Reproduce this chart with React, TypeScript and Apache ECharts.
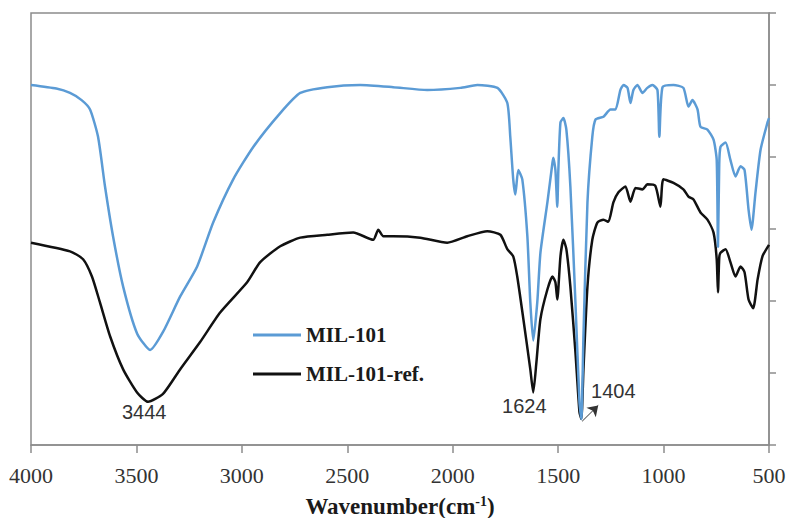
import React, { useEffect, useRef } from "react";
import * as echarts from "echarts";

// Wavenumber ticks (cm-1)
const xTicks = [4000, 3500, 3000, 2500, 2000, 1500, 1000, 500];

// MIL-101 (blue) — wavenumber and relative transmittance (a.u.)
const milWn = [4000, 3880, 3815, 3760, 3720, 3682, 3649, 3611, 3563, 3497, 3435, 3374, 3293, 3212, 3136, 3041, 2946, 2818, 2723, 2595, 2439, 2282, 2121, 1964, 1883, 1788, 1741, 1727, 1713, 1703, 1689, 1670, 1646, 1632, 1618, 1599, 1584, 1551, 1527, 1523, 1513, 1504, 1499, 1489, 1475, 1461, 1442, 1418, 1399, 1390, 1380, 1361, 1338, 1323, 1285, 1252, 1228, 1205, 1190, 1171, 1157, 1143, 1124, 1100, 1077, 1053, 1029, 1020, 1005, 953, 906, 882, 863, 839, 825, 792, 763, 748, 742, 736, 730, 706, 683, 659, 635, 616, 597, 583, 564, 540, 507, 500];
const milT = [5.0, 4.95, 4.89, 4.79, 4.66, 4.28, 3.59, 2.9, 2.2, 1.55, 1.32, 1.57, 2.06, 2.48, 3.09, 3.69, 4.14, 4.61, 4.89, 4.97, 5.0, 4.97, 4.93, 4.96, 5.0, 4.96, 4.75, 4.28, 3.69, 3.48, 3.82, 3.69, 2.9, 1.98, 1.45, 1.98, 2.67, 3.37, 3.92, 3.99, 3.82, 3.31, 3.82, 4.48, 4.54, 4.38, 3.59, 1.98, 0.6, 0.36, 1.51, 3.37, 4.28, 4.52, 4.56, 4.66, 4.66, 4.93, 5.0, 4.96, 4.75, 4.93, 5.0, 4.89, 4.96, 5.0, 4.93, 4.28, 4.97, 5.0, 4.96, 4.7, 4.79, 4.66, 4.42, 4.38, 4.24, 3.96, 2.75, 3.9, 4.14, 4.2, 3.96, 3.73, 3.87, 3.82, 3.27, 2.99, 3.51, 4.1, 4.48, 4.54];

// MIL-101-ref. (black)
const refWn = [4000, 3815, 3753, 3711, 3673, 3625, 3563, 3497, 3445, 3374, 3293, 3198, 3103, 2975, 2913, 2818, 2723, 2595, 2472, 2377, 2353, 2329, 2282, 2154, 2026, 1931, 1836, 1774, 1741, 1713, 1694, 1665, 1632, 1618, 1603, 1584, 1551, 1527, 1513, 1504, 1489, 1475, 1461, 1442, 1418, 1399, 1390, 1380, 1361, 1338, 1314, 1285, 1262, 1238, 1214, 1181, 1157, 1133, 1100, 1077, 1039, 1015, 1001, 953, 906, 882, 858, 825, 792, 763, 748, 742, 736, 730, 706, 683, 659, 635, 616, 597, 575, 554, 531, 500];
const refT = [2.81, 2.69, 2.58, 2.34, 1.98, 1.51, 1.05, 0.73, 0.6, 0.71, 1.05, 1.43, 1.84, 2.26, 2.54, 2.76, 2.88, 2.92, 2.95, 2.85, 2.99, 2.9, 2.9, 2.88, 2.81, 2.9, 2.97, 2.92, 2.72, 2.62, 2.34, 1.75, 1.05, 0.73, 1.15, 1.75, 2.16, 2.34, 2.26, 2.02, 2.62, 2.85, 2.72, 2.2, 1.29, 0.46, 0.36, 1.05, 2.2, 2.85, 3.09, 3.13, 3.1, 3.37, 3.51, 3.59, 3.38, 3.57, 3.55, 3.62, 3.6, 3.31, 3.69, 3.64, 3.55, 3.45, 3.41, 3.23, 3.13, 2.95, 2.58, 2.12, 2.6, 2.67, 2.72, 2.54, 2.34, 2.48, 2.4, 2.02, 1.9, 2.3, 2.62, 2.78];

// Peak annotations
const peakLabels = ["3444", "1624", "1404"];
const peakWn = [3444, 1618, 1390];
const peakT = [0.6, 0.73, 0.36];

const seriesNames = ["MIL-101", "MIL-101-ref."];

export default function App() {
  const ref = useRef<HTMLDivElement>(null);
  useEffect(() => {
    const chart = echarts.init(ref.current!, null, { renderer: "svg" });
    const pair = (w: number[], t: number[]) => w.map((x, i) => [x, t[i]]);
    const sans = "Liberation Sans, Arial, sans-serif";
    const serif = "Liberation Serif, Times New Roman, serif";
    chart.setOption({
      animation: false,
      backgroundColor: "#ffffff",
      grid: {
        left: 31,
        right: 19,
        top: 13,
        bottom: 73,
        show: true,
        borderColor: "#8c8c8c",
        borderWidth: 1.5,
        containLabel: false,
        outerBoundsMode: "none",
      },
      legend: {
        data: seriesNames,
        orient: "vertical",
        left: 248,
        top: 319,
        icon: "rect",
        itemWidth: 48,
        itemHeight: 3,
        itemGap: 17,
        textStyle: {
          fontFamily: serif,
          fontWeight: "bold",
          fontSize: 21,
          color: "#1a1a1a",
          lineHeight: 22,
        },
      },
      xAxis: {
        type: "value",
        inverse: true,
        min: 500,
        max: 4000,
        interval: 500,
        name: "Wavenumber(cm{sup|-1})",
        nameLocation: "middle",
        nameGap: 49,
        nameTextStyle: {
          fontFamily: serif,
          fontWeight: "bold",
          fontSize: 23,
          color: "#1a1a1a",
          rich: {
            sup: {
              fontFamily: serif,
              fontWeight: "bold",
              fontSize: 14,
              color: "#1a1a1a",
              verticalAlign: "top",
              padding: [0, 0, 10, 0],
            },
          },
        },
        axisLine: { show: true, lineStyle: { color: "#8c8c8c", width: 1.5 } },
        axisTick: { show: true, inside: false, length: 8, lineStyle: { color: "#8c8c8c", width: 1.5 } },
        axisLabel: {
          fontFamily: serif,
          fontSize: 22,
          color: "#333333",
          margin: 19,
          formatter: (v: number) => (xTicks.includes(v) ? String(v) : ""),
        },
        splitLine: { show: false },
      },
      yAxis: {
        type: "value",
        position: "right",
        min: 0,
        max: 6,
        interval: 1,
        axisLine: { show: true, lineStyle: { color: "#8c8c8c", width: 1.5 } },
        axisTick: { show: true, inside: false, length: 7, lineStyle: { color: "#8c8c8c", width: 1.5 } },
        axisLabel: { show: false },
        splitLine: { show: false },
      },
      series: [
        {
          name: seriesNames[1],
          type: "line",
          data: pair(refWn, refT),
          showSymbol: false,
          smooth: 0.2,
          lineStyle: { color: "#111111", width: 2.5 },
          itemStyle: { color: "#111111" },
          markPoint: {
            symbol: "circle",
            symbolSize: 0,
            data: peakLabels.map((s, i) => ({
              coord: [peakWn[i], peakT[i]],
              value: s,
              label: {
                show: true,
                position: "inside",
                formatter: s,
                fontFamily: sans,
                fontSize: 20,
                color: "#333333",
                offset: i === 0 ? [-4, 10] : i === 1 ? [-9, 14] : [32, -28],
              },
            })),
          },
          markLine: {
            silent: true,
            symbol: ["none", "arrow"],
            symbolSize: 10,
            label: { show: false },
            lineStyle: { color: "#333333", width: 1, type: "solid" },
            data: [[{ coord: [1386, 0.33] }, { coord: [1310, 0.55] }]],
          },
        },
        {
          name: seriesNames[0],
          type: "line",
          data: pair(milWn, milT),
          showSymbol: false,
          smooth: 0.2,
          lineStyle: { color: "#5b9bd5", width: 2.5 },
          itemStyle: { color: "#5b9bd5" },
        },
      ],
    });
    return () => chart.dispose();
  }, []);
  return (
    <div
      ref={ref}
      style={{ position: "fixed", left: 0, top: 0, width: 788, height: 518, background: "#fff" }}
    />
  );
}
